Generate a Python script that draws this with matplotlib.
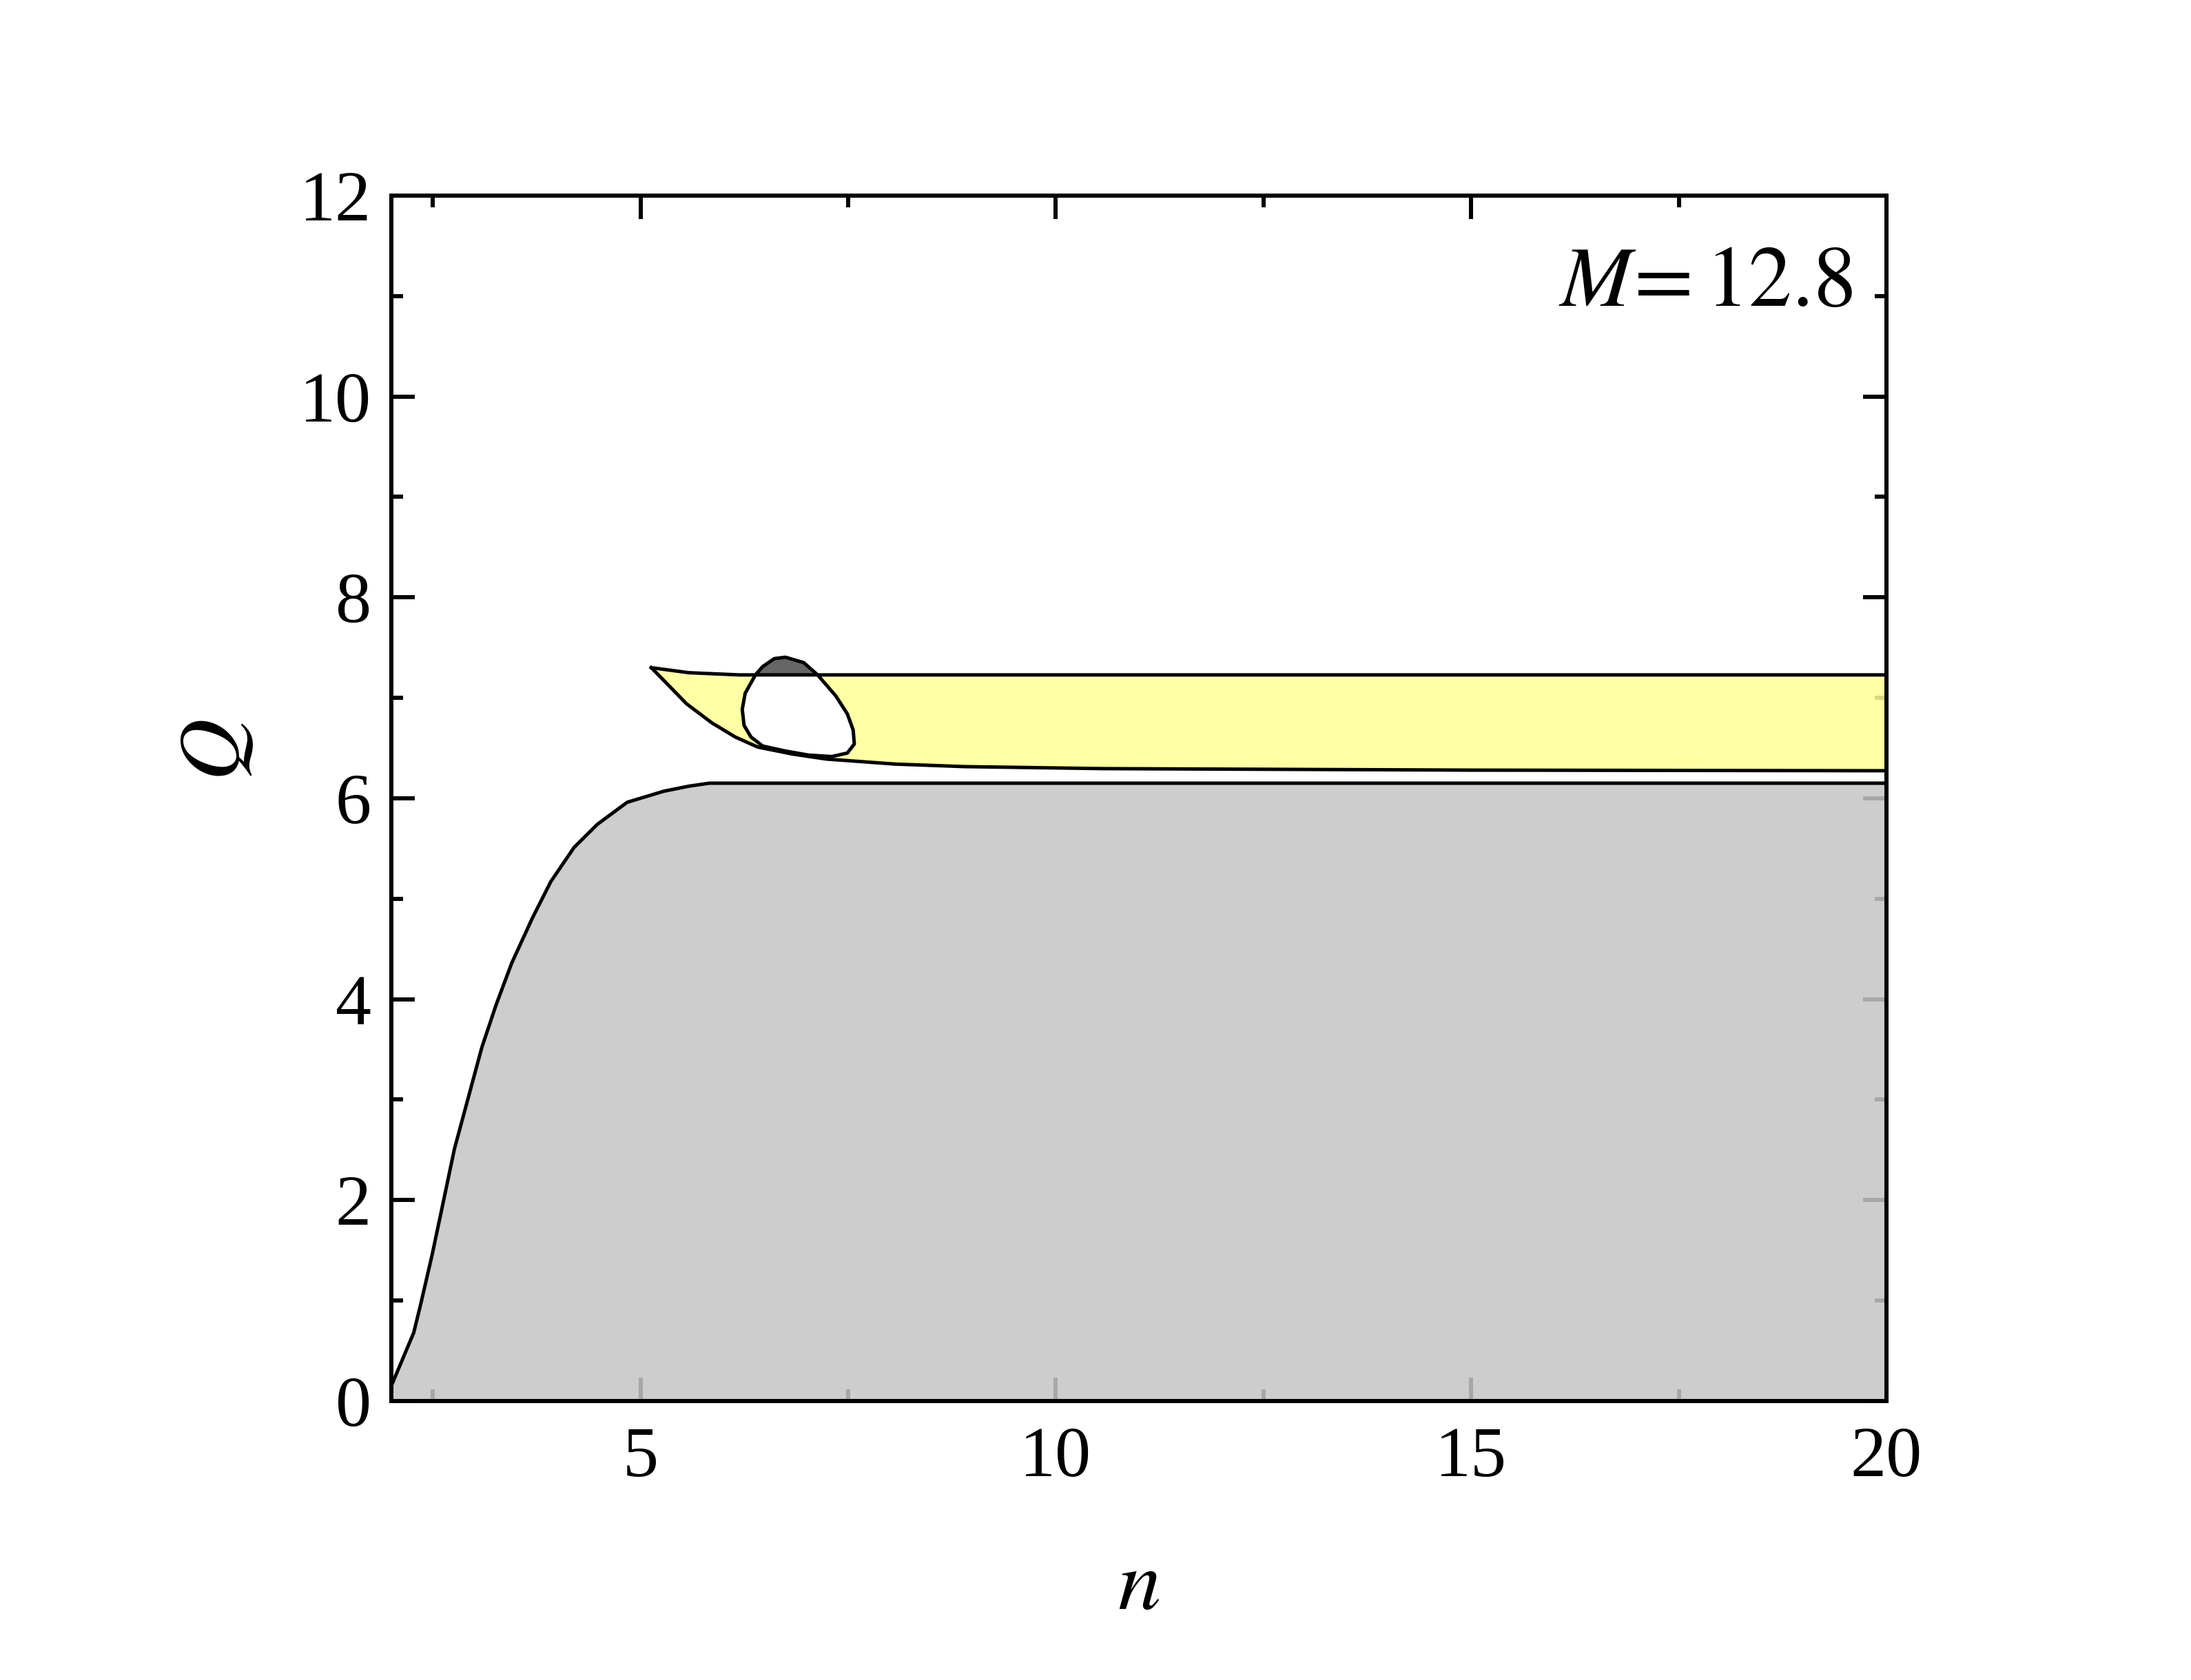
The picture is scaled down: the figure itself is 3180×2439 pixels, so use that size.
import matplotlib
matplotlib.use("Agg")
import matplotlib.pyplot as plt
from matplotlib.patches import Polygon, Rectangle
from matplotlib.ticker import MultipleLocator

plt.rcParams['font.family'] = ['Liberation Serif', 'DejaVu Serif']
plt.rcParams['mathtext.fontset'] = 'stix'

# grey region boundary
grey_n = [2.0, 2.27, 2.35, 2.49, 2.6, 2.76, 2.93, 3.09, 3.26, 3.45, 3.70, 3.92,
          4.20, 4.48, 4.84, 5.28, 5.58, 5.83, 20.0]
grey_q = [0.15, 0.68, 0.95, 1.45, 1.88, 2.51, 3.03, 3.52, 3.94, 4.36, 4.81, 5.17,
          5.51, 5.74, 5.96, 6.07, 6.12, 6.15, 6.15]

# yellow band, upper and lower edges starting at the tip
yel_top_n = [5.13, 5.58, 6.19, 20.0]
yel_top_q = [7.30, 7.25, 7.228, 7.228]
yel_bot_n = [5.13, 5.555, 5.86, 6.0, 6.14, 6.41, 6.83, 7.24, 8.07, 8.9, 10.56, 15.0, 20.0]
yel_bot_q = [7.30, 6.94, 6.75, 6.68, 6.61, 6.51, 6.44, 6.39, 6.34, 6.315, 6.295, 6.28, 6.274]

# closed loop
loop_n = [6.745, 6.61, 6.47, 6.385, 6.26, 6.225, 6.247, 6.33, 6.47, 6.745, 7.02, 7.30,
          7.49, 7.574, 7.56, 7.49, 7.35, 7.13, 6.965]
loop_q = [7.404, 7.39, 7.31, 7.23, 7.045, 6.885, 6.725, 6.61, 6.52, 6.47, 6.43, 6.415,
          6.45, 6.54, 6.68, 6.84, 7.02, 7.23, 7.35]

label_text = r"$M\!{=}\mathrm{12.8}$"

fig = plt.figure(figsize=(10.6, 8.13), dpi=300)
ax = fig.add_axes([0.1786, 0.1661, 0.6824, 0.7175])
ax.set_xlim(2, 20)
ax.set_ylim(0, 12)
ax.set_axisbelow(True)

lw = 1.2
# grey region
gpts = list(zip(grey_n, grey_q)) + [(20.0, 0.0), (2.0, 0.0)]
ax.add_patch(Polygon(gpts, closed=True, facecolor='#c5c5c5', alpha=0.85,
                     edgecolor='none', zorder=1))
ax.plot(grey_n, grey_q, color='black', lw=lw, zorder=2, solid_joinstyle='round')

# yellow band
ypts = list(zip(yel_top_n, yel_top_q)) + list(zip(yel_bot_n[::-1], yel_bot_q[::-1]))
ax.add_patch(Polygon(ypts, closed=True, facecolor='#ffff96', alpha=0.85,
                     edgecolor='none', zorder=1))
ax.plot(yel_top_n, yel_top_q, color='black', lw=lw, zorder=2)
ax.plot(yel_bot_n, yel_bot_q, color='black', lw=lw, zorder=2, solid_joinstyle='round')

# loop: white below the band top, dark grey above it
lpts = list(zip(loop_n, loop_q))
band_top = yel_top_q[-1]
lower = Polygon(lpts, closed=True, facecolor='white', edgecolor='none', zorder=1.5)
ax.add_patch(lower)
lower.set_clip_path(Rectangle((2, 0), 18, band_top, transform=ax.transData))
upper = Polygon(lpts, closed=True, facecolor='#666666', edgecolor='none', zorder=1.5)
ax.add_patch(upper)
upper.set_clip_path(Rectangle((2, band_top), 18, 12 - band_top, transform=ax.transData))
ax.add_patch(Polygon(lpts, closed=True, facecolor='none', edgecolor='black', lw=lw,
                     zorder=2, joinstyle='round'))

# axes styling
for s in ax.spines.values():
    s.set_linewidth(1.45)
ax.xaxis.set_major_locator(MultipleLocator(5))
ax.xaxis.set_minor_locator(MultipleLocator(2.5))
ax.yaxis.set_major_locator(MultipleLocator(2))
ax.yaxis.set_minor_locator(MultipleLocator(1))
ax.tick_params(which='both', direction='in', top=True, right=True, width=1.45)
ax.tick_params(which='major', length=8.2, labelsize=25)
ax.tick_params(which='minor', length=4.1)
ax.tick_params(axis='x', which='major', pad=9)
ax.tick_params(axis='y', which='major', pad=7)

ax.text(19.59, 10.9, label_text, fontsize=30, ha='right', va='baseline', zorder=3)

fig.text(1653 / 3180, 1 - 2306 / 2439, "$n$", fontsize=30, ha='center', va='center')
fig.text(316 / 3180, 1 - 1089 / 2439, "$Q$", fontsize=30, ha='center', va='center',
         rotation=90)

fig.savefig("out.png", dpi=300)
